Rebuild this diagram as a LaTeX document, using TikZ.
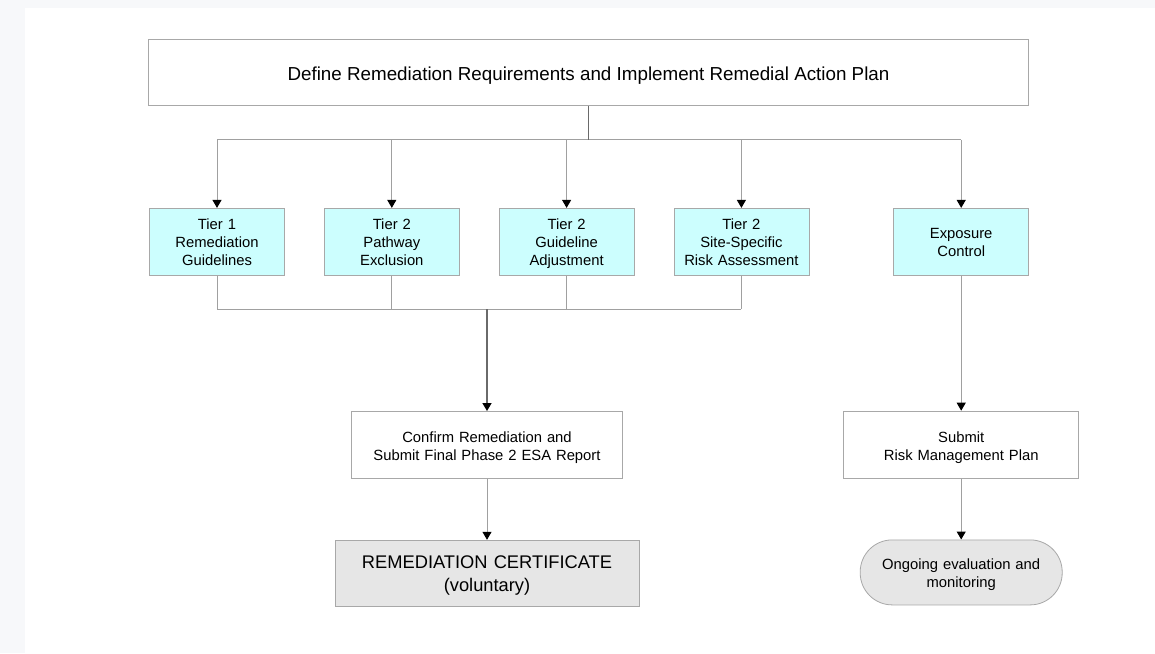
\documentclass[tikz,border=0pt]{standalone}
\usepackage{fontspec}
\setmainfont{Liberation Sans}
\usepackage{xcolor}
\usetikzlibrary{positioning, arrows.meta}
\definecolor{boxgray}{HTML}{A8A8A8}
\definecolor{linegray}{HTML}{A0A0A0}
\definecolor{trunkgray}{HTML}{6A6A6A}
\definecolor{tiercyan}{HTML}{CCFEFE}
\definecolor{endgray}{HTML}{E6E6E6}
\definecolor{pagegray}{HTML}{F7F8FA}
\tikzstyle{plan} = [rectangle, minimum width=440pt, minimum height=33pt, text centered, align=center, draw=boxgray, font=\fontsize{9.4}{11}\selectfont, execute at begin node={\rule{0pt}{10.4pt}}]
\tikzstyle{tier} = [rectangle, minimum width=67.5pt, minimum height=33.5pt, inner sep=0pt, text width=67pt, align=center, draw=boxgray, fill=tiercyan, font=\fontsize{7.4}{9}\selectfont, execute at begin node={\rule{0pt}{7.5pt}}, execute at end node={\rule[-1.5pt]{0pt}{1.5pt}}]
\tikzstyle{task} = [rectangle, minimum width=135.5pt, minimum height=33.5pt, inner sep=0pt, text width=134pt, align=center, draw=boxgray, font=\fontsize{7.4}{9}\selectfont, execute at begin node={\rule{0pt}{8pt}}, execute at end node={\rule[-1.5pt]{0pt}{1.5pt}}]
\tikzstyle{result} = [rectangle, minimum width=152pt, minimum height=33pt, inner sep=0pt, text width=150pt, align=center, draw=boxgray, fill=endgray, font=\fontsize{9.15}{11.5}\selectfont, execute at begin node={\rule{0pt}{8.5pt}}]
\tikzstyle{goal} = [rectangle, rounded corners=16pt, minimum width=101pt, minimum height=32.5pt, inner sep=0pt, text width=100pt, align=center, draw=boxgray, fill=endgray, font=\fontsize{7.4}{9}\selectfont, execute at begin node={\rule{0pt}{7.5pt}}, execute at end node={\rule[-1.5pt]{0pt}{1.5pt}}]
\tikzstyle{bus} = [draw=linegray, line width=0.5pt]
\tikzstyle{trunk} = [draw=trunkgray, line width=0.8pt]
\tikzstyle{arrow} = [bus, -{Triangle[width=4.5pt, length=4pt, color=black]}]
\tikzstyle{trunkarrow} = [trunk, -{Triangle[width=4.5pt, length=4pt, color=black]}]

\begin{document}
\begin{tikzpicture}
    % page
    \fill[pagegray] (0,0) rectangle (577.5pt,-326.5pt);
    \fill[white] (12.5pt,-4pt) rectangle (577.5pt,-326.5pt);
    \useasboundingbox (0,0) rectangle (577.5pt,-326.5pt);
    %
    \node(top)[plan] at (294.25pt,-36.25pt) {Define Remediation Requirements and Implement Remedial Action Plan};
    \node(tier1)[tier, below=51pt of top.south west, anchor=north west, xshift=0.5pt] {Tier 1\\Remediation\\Guidelines};
    \node(tier2)[tier, right=19.5pt of tier1] {Tier 2\\Pathway\\Exclusion};
    \node(tier3)[tier, right=19.5pt of tier2] {Tier 2\\Guideline\\Adjustment};
    \node(tier4)[tier, right=19.5pt of tier3] {Tier 2\\Site-Specific\\Risk Assessment};
    \node(expo)[tier, right=42pt of tier4] {Exposure\\Control};
    %
    \coordinate (fork) at ([yshift=-17pt]top.south);
    \coordinate (join) at (243.5pt,-154.5pt);
    %
    \node(confirm)[task, below=51pt of join] {Confirm Remediation and\\Submit Final Phase 2 ESA Report};
    \node(cert)[result, below=30.5pt of confirm] {REMEDIATION CERTIFICATE\\(voluntary)};
    \node(rmp)[task, minimum width=117.5pt, text width=116pt, below=67.5pt of expo] {Submit\\Risk Management Plan};
    \node(monitor)[goal, below=30.5pt of rmp] {Ongoing evaluation and\\monitoring};
    %
    \draw[bus](fork -| tier1) -- (fork -| expo);
    \foreach \t in {tier1, tier2, tier3, tier4, expo}
        \draw[arrow](fork -| \t) -- (\t);
    \draw[trunk](top) -- (fork);
    %
    \foreach \t in {tier1, tier2, tier3, tier4}
        \draw[bus](\t) -- (\t |- join);
    \draw[bus](tier1 |- join) -- (tier4 |- join);
    \draw[trunkarrow](join) -- (confirm);
    \draw[arrow](confirm) -- (cert);
    \draw[arrow](expo) -- (rmp);
    \draw[arrow](rmp) -- (monitor);
  \end{tikzpicture}
\end{document}
